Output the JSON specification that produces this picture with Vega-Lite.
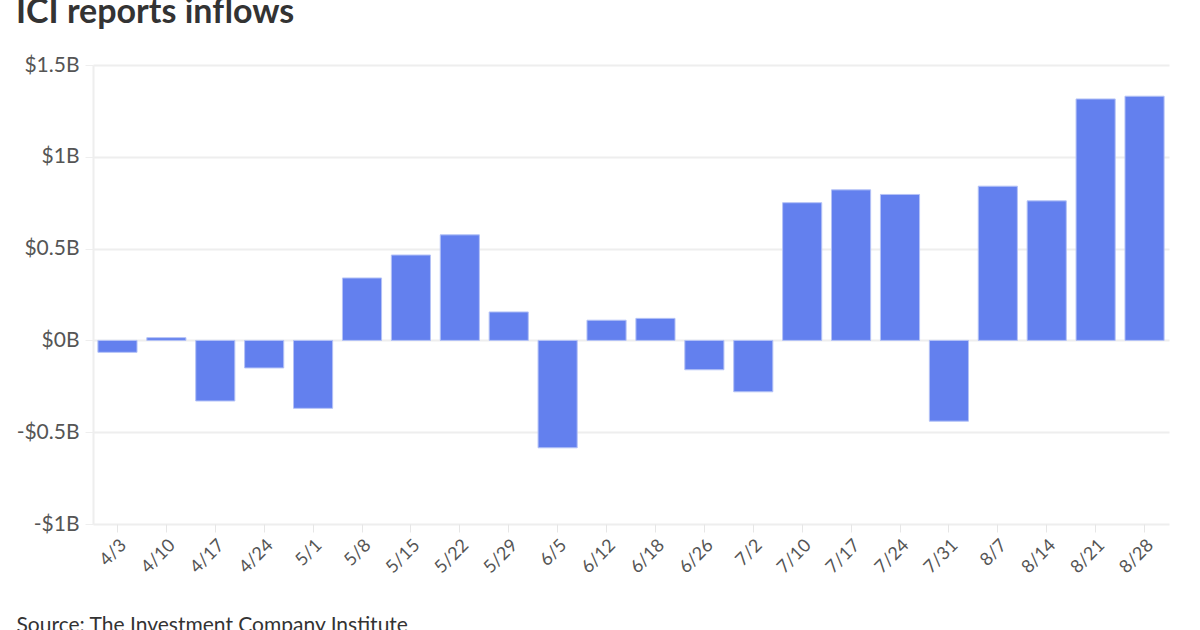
{
  "$schema": "https://vega.github.io/schema/vega-lite/v6.json",
  "width": 1076,
  "height": 459,
  "autosize": {"type": "none"},
  "padding": {"left": 93, "top": 65, "right": 31, "bottom": 106},
  "background": "white",
  "config": {
    "font": "Lato",
    "view": {"stroke": null}
  },
  "title": {
    "text": "ICI reports inflows",
    "anchor": "start",
    "frame": "group",
    "orient": "top",
    "dx": -77,
    "dy": 13,
    "offset": 10,
    "baseline": "alphabetic",
    "fontSize": 34,
    "fontWeight": "bold",
    "color": "#333333",
    "font": "Lato"
  },
  "data": {
    "values": [
      {"week": "4/3", "inflow": -0.065},
      {"week": "4/10", "inflow": 0.015},
      {"week": "4/17", "inflow": -0.33},
      {"week": "4/24", "inflow": -0.15},
      {"week": "5/1", "inflow": -0.37},
      {"week": "5/8", "inflow": 0.34},
      {"week": "5/15", "inflow": 0.465},
      {"week": "5/22", "inflow": 0.575},
      {"week": "5/29", "inflow": 0.155},
      {"week": "6/5", "inflow": -0.585},
      {"week": "6/12", "inflow": 0.11},
      {"week": "6/18", "inflow": 0.12},
      {"week": "6/26", "inflow": -0.16},
      {"week": "7/2", "inflow": -0.28},
      {"week": "7/10", "inflow": 0.75},
      {"week": "7/17", "inflow": 0.82},
      {"week": "7/24", "inflow": 0.795},
      {"week": "7/31", "inflow": -0.44},
      {"week": "8/7", "inflow": 0.84},
      {"week": "8/14", "inflow": 0.76},
      {"week": "8/21", "inflow": 1.315},
      {"week": "8/28", "inflow": 1.33}
    ]
  },
  "mark": {"type": "bar", "color": "#6380EE", "stroke": "#b4c2f6", "strokeWidth": 1},
  "encoding": {
    "x": {
      "field": "week",
      "type": "ordinal",
      "sort": null,
      "scale": {"paddingInner": 0.2, "paddingOuter": 0.1},
      "axis": {
        "title": "Source: The Investment Company Institute",
        "titleAnchor": "start",
        "titleAlign": "left",
        "titleX": -77,
        "titleY": 107,
        "titleBaseline": "alphabetic",
        "titleFontSize": 21,
        "titleFontWeight": "normal",
        "titleColor": "#333333",
        "titleFont": "Lato",
        "labelAngle": -45,
        "labelFontSize": 18,
        "labelColor": "#555555",
        "labelFont": "Lato",
        "labelPadding": 4,
        "domain": false,
        "tickColor": "#e6e6e6",
        "tickSize": 8,
        "grid": false
      }
    },
    "y": {
      "field": "inflow",
      "type": "quantitative",
      "scale": {"domain": [-1, 1.5], "nice": false},
      "axis": {
        "title": null,
        "values": [-1, -0.5, 0, 0.5, 1, 1.5],
        "labelExpr": "(datum.value < 0 ? '-' : '') + '$' + abs(datum.value) + 'B'",
        "labelFontSize": 21,
        "labelColor": "#555555",
        "labelFont": "Lato",
        "labelPadding": 6,
        "domain": true,
        "domainColor": "#eeeeee",
        "domainWidth": 2,
        "tickColor": "#eeeeee",
        "tickSize": 8,
        "grid": true,
        "gridColor": "#eeeeee",
        "gridWidth": 2
      }
    }
  }
}
